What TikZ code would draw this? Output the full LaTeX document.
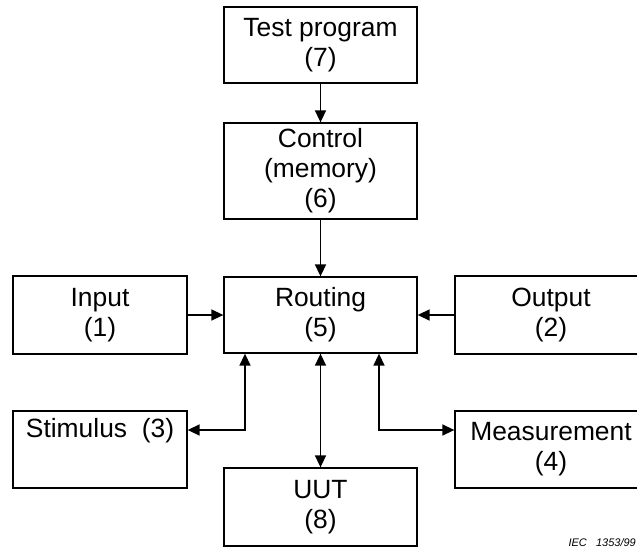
\documentclass[tikz,border=0pt]{standalone}
\usepackage{fontspec}
\setmainfont{Liberation Sans}
\usetikzlibrary{arrows.meta}
\begin{document}
\begin{tikzpicture}[x=1pt,y=-1pt,
  box/.style={draw,line width=1.3pt,inner sep=0pt,align=center,
    font=\fontsize{26.4}{30}\selectfont},
  lbl/.style={inner sep=0pt,font=\fontsize{26.4}{30}\selectfont},
  conn/.style={line width=1.5pt,-{Triangle[length=12pt,width=11pt]}},
  biconn/.style={line width=1.5pt,{Triangle[length=12pt,width=11pt]}-{Triangle[length=12pt,width=11pt]}}]
\useasboundingbox (0,0) rectangle (637,557);
\node[box,minimum width=193pt,minimum height=76pt] (tp) at (320.5,45) {Test program\\(7)};
\node[box,minimum width=193pt,minimum height=96pt] (ctl) at (320.5,171) {Control\\(memory)\\(6)};
\node[box,minimum width=193pt,minimum height=76pt] (rt) at (320.5,315) {Routing\\(5)};
\node[box,minimum width=174pt,minimum height=78pt] (in) at (100,315) {Input\\(1)};
\node[box,minimum width=192pt,minimum height=78pt] (out) at (551,315) {Output\\(2)};
\node[box,minimum width=174pt,minimum height=77pt] (stim) at (100,449.5) {};
\node[lbl,anchor=base] (stimt) at (100,437) {Stimulus\ \ (3)};
\node[box,minimum width=192pt,minimum height=77pt] (meas) at (551,449.5) {Measurement\\(4)};
\node[box,minimum width=193pt,minimum height=78pt] (uut) at (320.5,507) {UUT\\(8)};
\node[inner sep=0pt,anchor=base east,font=\fontsize{11}{13}\selectfont\itshape] (iec) at (636,546) {IEC\ \ \ 1353/99};
\draw[conn] (tp) -- (ctl);
\draw[conn] (ctl) -- (rt);
\draw[conn] (in) -- (rt);
\draw[conn] (out) -- (rt);
\draw[biconn] (rt) -- (uut);
\draw[biconn] (rt.south -| 245,0) |- (stim.east |- 0,430);
\draw[biconn] (rt.south -| 379,0) |- (meas.west |- 0,430);
\end{tikzpicture}
\end{document}
